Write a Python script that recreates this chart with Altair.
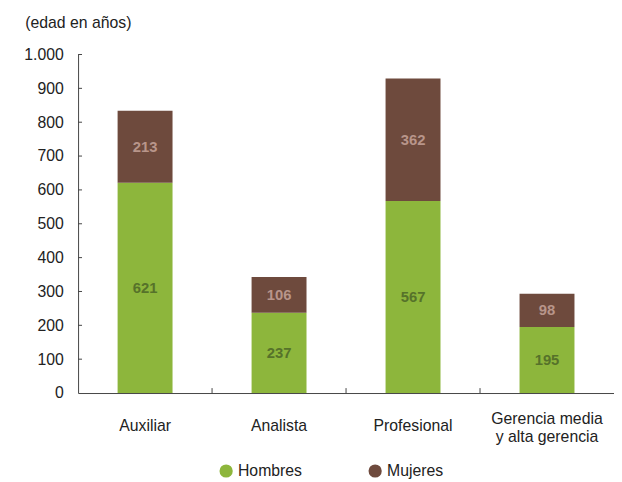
import altair as alt
import pandas as pd

categories = ["Auxiliar", "Analista", "Profesional", "Gerencia media y alta gerencia"]
cat_labels = ["Auxiliar", "Analista", "Profesional", "Gerencia media\ny alta gerencia"]
hombres = [621, 237, 567, 195]
mujeres = [213, 106, 362, 98]
series = ["Hombres", "Mujeres"]
colors = ["#8DB63C", "#6E4A3D"]
label_colors = ["#56722A", "#B8958A"]
y_ticks = [0, 100, 200, 300, 400, 500, 600, 700, 800, 900, 1000]

rows = []
for c, h, m in zip(categories, hombres, mujeres):
    rows.append({"cat": c, "serie": "Hombres", "v": h, "y0": 0, "y1": h, "mid": h / 2})
    rows.append({"cat": c, "serie": "Mujeres", "v": m, "y0": h, "y1": h + m, "mid": h + m / 2})
df = pd.DataFrame(rows)

FONT = "Liberation Sans"
W, H = 543, 343

xscale = alt.Scale(domain=categories, paddingInner=0, paddingOuter=0)
yscale = alt.Scale(domain=[0, 1000], nice=False)

x_axis = alt.Axis(
    title=None, ticks=False, domain=True, domainColor="#444", domainWidth=1,
    labels=False,
)
y_axis = alt.Axis(
    title="(edad en años)", titleAngle=0, titleAlign="left", titleBaseline="middle",
    titleX=-54, titleY=-32, titleFont=FONT, titleFontSize=16, titleFontWeight="normal",
    titleColor="#222",
    values=y_ticks, ticks=False, grid=False, domain=True, domainColor="#444",
    labelOverlap=False,
    labelFont=FONT, labelFontSize=16, labelColor="#222", labelPadding=15,
    labelExpr="replace(format(datum.value, ','), ',', '.')",
)

bars = alt.Chart(df).mark_bar(width=alt.RelativeBandSize(0.41)).encode(
    x=alt.X("cat:N", scale=xscale, axis=x_axis, sort=categories),
    y=alt.Y("y0:Q", scale=yscale, axis=y_axis),
    y2="y1:Q",
    color=alt.Color(
        "serie:N",
        scale=alt.Scale(domain=series, range=colors),
        legend=alt.Legend(
            title=None, orient="none", legendX=142, legendY=414, direction="horizontal",
            symbolType="circle", symbolSize=180, symbolStrokeWidth=0,
            labelFont=FONT, labelFontSize=16, labelColor="#222", labelOffset=4,
            columnPadding=66, padding=0,
        ),
    ),
)

texts = alt.Chart(df).mark_text(font=FONT, fontSize=15, fontWeight="bold", baseline="middle").encode(
    x=alt.X("cat:N", scale=xscale, sort=categories, axis=x_axis),
    y=alt.Y("mid:Q", scale=yscale, axis=y_axis),
    text="v:Q",
    color=alt.Color("serie:N", scale=alt.Scale(domain=series, range=label_colors), legend=None),
)

single_df = pd.DataFrame({"cat": categories[:3], "lab": cat_labels[:3]})
multi_df = pd.DataFrame({"cat": categories[3:], "lab": cat_labels[3:]})

xlabels1 = alt.Chart(single_df).mark_text(
    font=FONT, fontSize=16, color="#222", baseline="middle"
).encode(
    x=alt.X("cat:N", scale=xscale, sort=categories, axis=x_axis),
    y=alt.value(H + 33),
    text="lab:N",
)
xlabels2 = alt.Chart(multi_df).mark_text(
    font=FONT, fontSize=16, color="#222", baseline="middle", lineBreak="\n", lineHeight=19
).encode(
    x=alt.X("cat:N", scale=xscale, sort=categories, axis=x_axis),
    y=alt.value(H + 26),
    text="lab:N",
)

tick_df = pd.DataFrame({"cat": categories[1:]})
xticks = alt.Chart(tick_df).mark_rule(color="#444", strokeWidth=1).encode(
    x=alt.X("cat:N", scale=xscale, sort=categories, bandPosition=0, axis=x_axis),
    y=alt.value(H - 5),
    y2=alt.value(H),
)

ytick_df = pd.DataFrame({"t": y_ticks[1:]})
yticks = alt.Chart(ytick_df).mark_rule(color="#444", strokeWidth=1).encode(
    y=alt.Y("t:Q", scale=yscale, axis=y_axis),
    x=alt.value(0),
    x2=alt.value(4),
)

chart = alt.layer(bars, texts, xlabels1, xlabels2, xticks, yticks).resolve_scale(color="independent").properties(
    width=W, height=H,
    autosize=alt.AutoSizeParams(type="none"),
    padding={"left": 71, "top": 44, "right": 0, "bottom": 85},
).configure_view(stroke=None)

chart.save("out.html", embed_options={"renderer": "svg", "actions": False})
